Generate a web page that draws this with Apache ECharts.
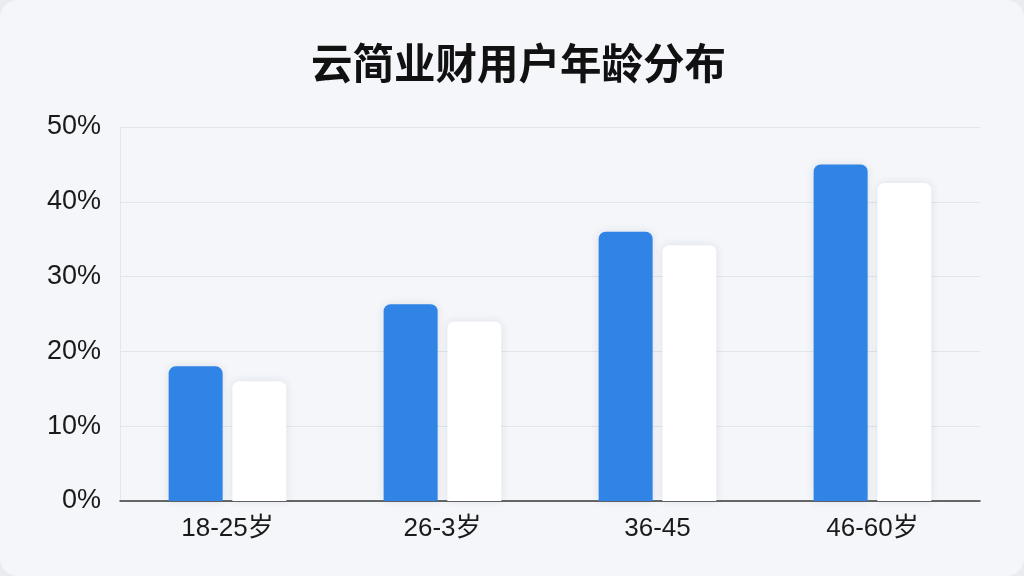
<!DOCTYPE html>
<html><head><meta charset="utf-8">
<script src="https://cdn.jsdelivr.net/npm/echarts@6/dist/echarts.min.js"></script>
<style>
html,body{margin:0;padding:0;background:#e9ecf0;}
#c{width:1024px;height:576px;background:#f4f6f9;border-radius:18px;}
</style></head><body>
<div id="c"></div>
<script>
const categories = ['18-25岁','26-3岁','36-45','46-60岁'];
const seriesA = [18, 26.3, 36, 45];
const seriesB = [16, 24, 34.2, 42.5];
const title = '云简业财用户年龄分布';

const chart = echarts.init(document.getElementById('c'));
const font = '"Liberation Sans", Arial, "Noto Sans CJK SC", sans-serif';
chart.setOption({
  animation:false,
  title:{text:title,left:306,top:37,textStyle:{fontSize:41.5,fontWeight:'bold',color:'#111',fontFamily:'"Noto Sans CJK SC", sans-serif'}},
  grid:{left:120,right:44,top:127,bottom:75},
  xAxis:{type:'category',data:categories,
    axisLine:{lineStyle:{color:'#3a3a3a',width:1.5}},axisTick:{show:false},
    axisLabel:{fontSize:26,color:'#1a1a1a',margin:15,fontFamily:font}},
  yAxis:{type:'value',min:0,max:50,interval:10,
    axisLine:{show:true,lineStyle:{color:'#e2e5ea'}},
    splitLine:{lineStyle:{color:'#e2e5ea'}},
    axisLabel:{formatter:'{value}%',fontSize:27,color:'#1a1a1a',margin:19,padding:[5,0,0,0],fontFamily:font}},
  series:[
    {type:'bar',data:seriesA,barWidth:54,barGap:'18%',
      itemStyle:{color:'#2f84e6',borderRadius:[7,7,0,0],shadowColor:'rgba(40,60,100,0.12)',shadowBlur:8}},
    {type:'bar',data:seriesB,barWidth:54,
      itemStyle:{color:'#ffffff',borderRadius:[7,7,0,0],shadowColor:'rgba(40,60,100,0.12)',shadowBlur:8}}
  ]
});
</script></body></html>
